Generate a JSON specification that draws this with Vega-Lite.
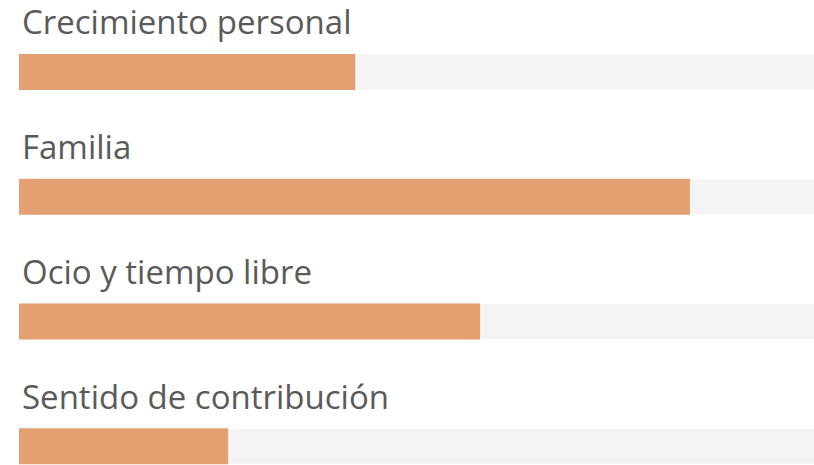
{
  "$schema": "https://vega.github.io/schema/vega-lite/v6.json",
  "width": 795,
  "height": 465,
  "padding": {"left": 19, "top": 0, "right": 0, "bottom": 0},
  "background": "white",
  "config": {"view": {"stroke": null}},
  "data": {"values": [
    {"label": "Crecimiento personal", "value": 42.3},
    {"label": "Familia", "value": 84.4},
    {"label": "Ocio y tiempo libre", "value": 58.0},
    {"label": "Sentido de contribución", "value": 26.3}
  ]},
  "encoding": {
    "y": {"field": "label", "type": "nominal", "sort": null, "axis": null,
          "scale": {"range": [9.6, 508.6], "paddingInner": 0, "paddingOuter": 0}}
  },
  "layer": [
    {
      "mark": {"type": "bar", "color": "#F4F4F4", "height": 35},
      "encoding": {
        "x": {"datum": 100, "type": "quantitative", "scale": {"domain": [0, 100], "nice": false}, "axis": null},
        "x2": {"datum": 0}
      }
    },
    {
      "mark": {"type": "bar", "color": "#E4A070", "height": 36},
      "encoding": {
        "x": {"field": "value", "type": "quantitative", "scale": {"domain": [0, 100], "nice": false}, "axis": null}
      }
    },
    {
      "mark": {"type": "text", "align": "left", "baseline": "alphabetic", "dx": 3, "yOffset": -37.5,
               "font": "Open Sans", "fontSize": 33, "fontWeight": 500, "color": "#5a5a5a"},
      "encoding": {
        "x": {"datum": 0, "type": "quantitative"},
        "text": {"field": "label"}
      }
    }
  ]
}
